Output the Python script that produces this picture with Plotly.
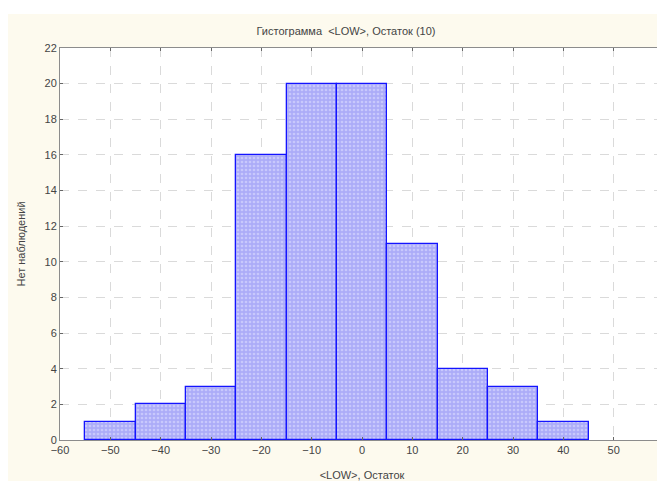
import plotly.graph_objects as go

bin_centers = [-50, -40, -30, -20, -10, 0, 10, 20, 30, 40]
counts = [1, 2, 3, 16, 20, 20, 11, 4, 3, 1]
bin_width = 10

title_text = "Гистограмма  &lt;LOW&gt;, Остаток (10)"
x_title = "&lt;LOW&gt;, Остаток"
y_title = "Нет наблюдений"

FONT = "Liberation Sans Narrow, Liberation Sans, Arial, sans-serif"
CREAM = "#fdfaee"

W, H = 657, 473  # page shows the figure offset by 8px body margin

fig = go.Figure()
fig.add_trace(go.Bar(
    x=bin_centers,
    y=counts,
    width=[bin_width] * len(bin_centers),
    marker=dict(
        color="#b0b0fa",
        line=dict(color="#1414ff", width=1.3),
        pattern=dict(shape=".", fgcolor="#e4e4ff", bgcolor="#acacf8",
                     size=4, solidity=0.35, fillmode="overlay"),
    ),
    hoverinfo="x+y",
))

axis_common = dict(
    showline=True, linecolor="#8c8c8c", linewidth=1, mirror="ticks",
    ticks="inside", ticklen=3, tickcolor="#666666",
    showgrid=True, gridcolor="#dadada", gridwidth=1, griddash="dash",
    zeroline=False, ticklabeloverflow="allow",
    tickfont=dict(family=FONT, size=11, color="#444444"),
)

plot_h = H - 40 - 41

fig.update_layout(
    width=W, height=H,
    margin=dict(l=52, r=1, t=40, b=41, autoexpand=False),
    paper_bgcolor=CREAM,
    plot_bgcolor="#ffffff",
    showlegend=False,
    bargap=0,
    title=dict(text=title_text, x=338 / W, xanchor="center",
               y=1 - 23 / H, yanchor="middle",
               font=dict(family=FONT, size=11, color="#444444")),
    xaxis=dict(range=[-60, 60], dtick=10, tick0=-60, automargin=False,
               title=dict(text=x_title, standoff=25,
                          font=dict(family=FONT, size=11, color="#444444")),
               **axis_common),
    yaxis=dict(range=[0, 22], dtick=2, tick0=0, automargin=False,
               title=dict(text=y_title, standoff=16,
                          font=dict(family=FONT, size=11, color="#444444")),
               **axis_common),
    shapes=[
        dict(type="rect", xref="paper", yref="paper",
             x0=-0.2, x1=1.2, y0=1 + 34 / plot_h, y1=1.3,
             fillcolor="#ffffff", line=dict(width=0), layer="below"),
    ],
)

fig.write_html("out.html")
